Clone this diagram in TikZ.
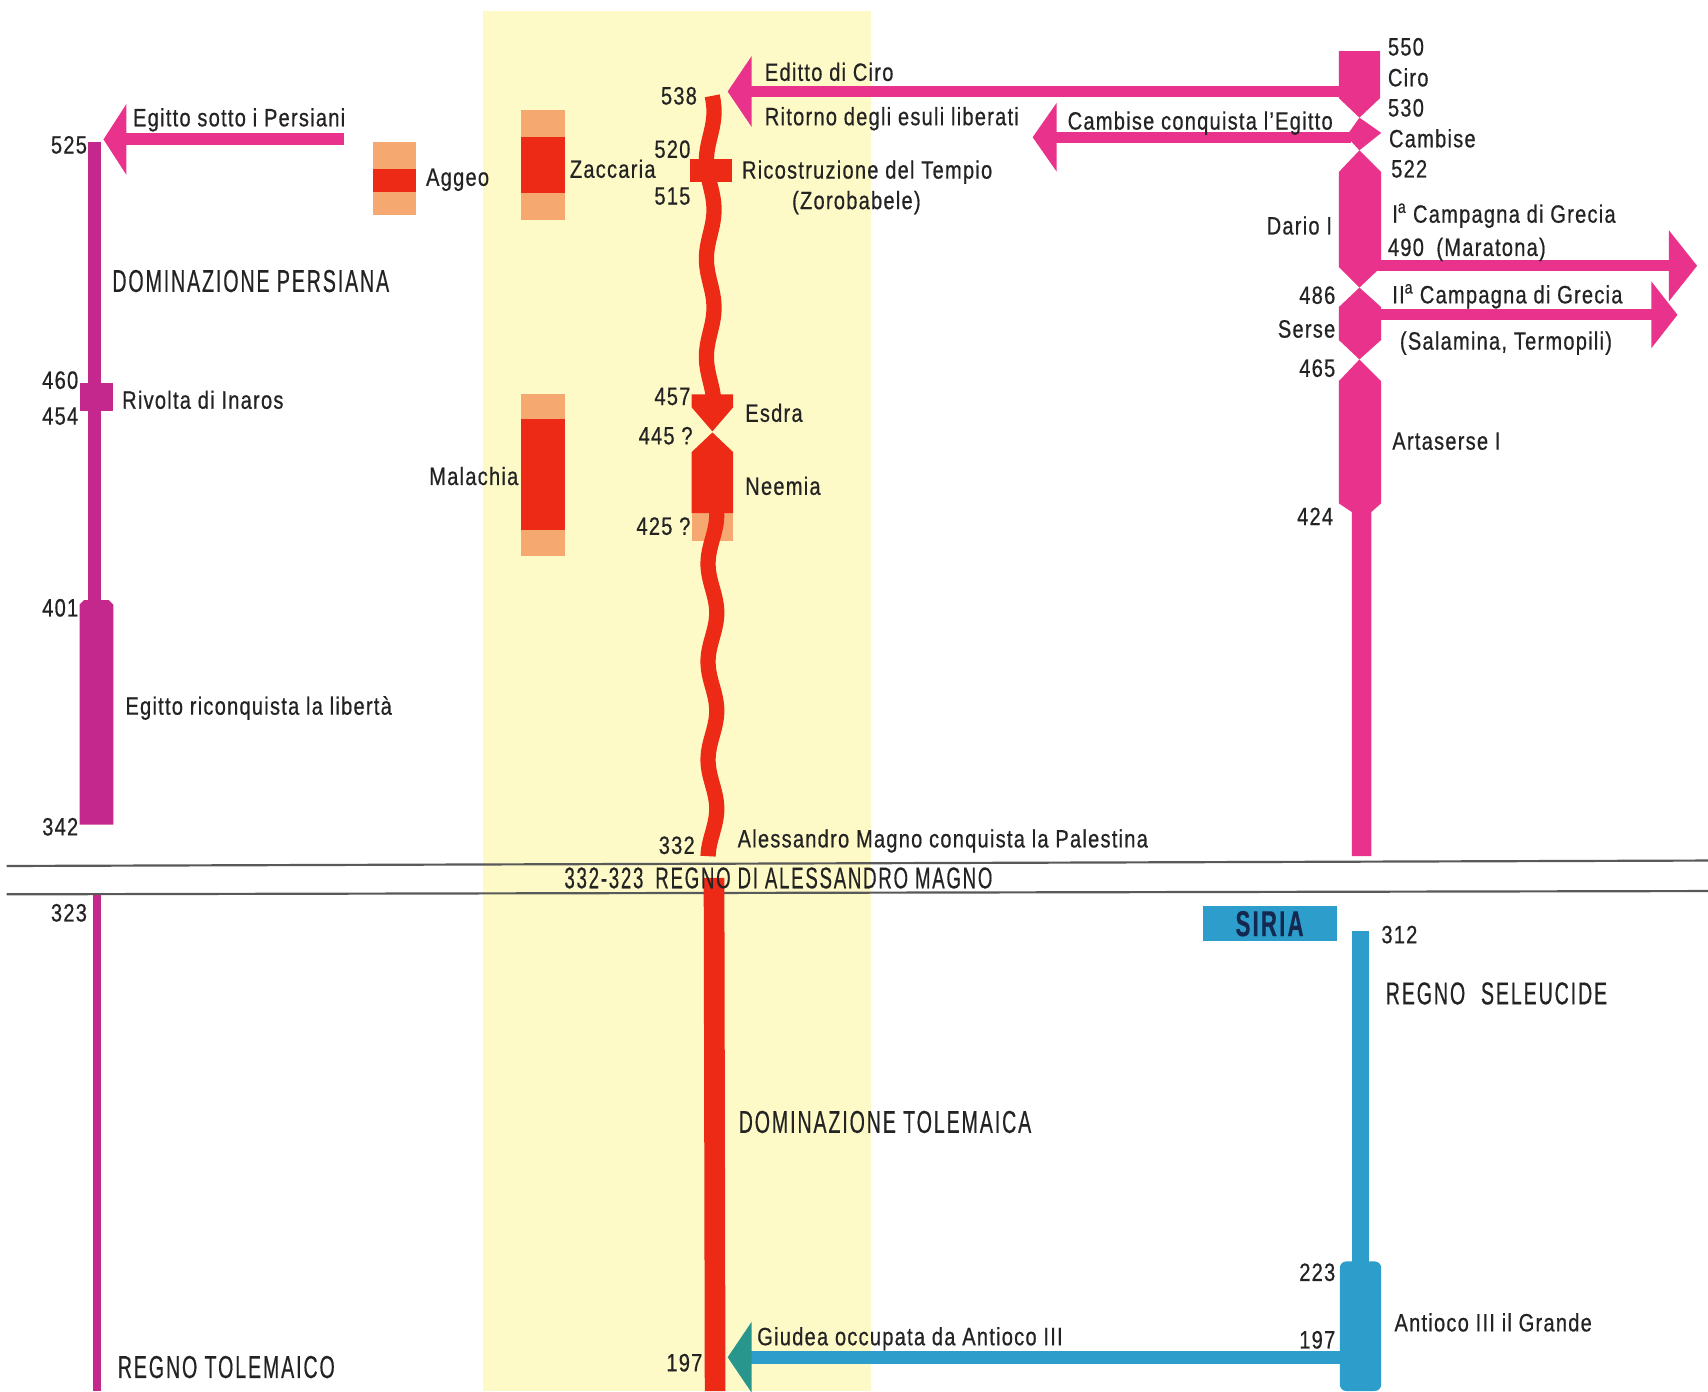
\documentclass[tikz,border=0pt]{standalone}
\usepackage{fontspec}
\setmainfont{Liberation Sans}[FakeStretch=0.8, LetterSpace=5, FakeBold=0.6]
\newfontfamily\capsfont{Liberation Sans}[FakeStretch=0.62, LetterSpace=6, FakeBold=0.4]
\usepackage{tikz}
\usetikzlibrary{arrows.meta, positioning}
\definecolor{persiapink}{RGB}{232, 50, 140}
\definecolor{egyptmag}{RGB}{196, 40, 140}
\definecolor{judared}{RGB}{236, 42, 22}
\definecolor{prophlight}{RGB}{245, 168, 112}
\definecolor{syriablue}{RGB}{45, 158, 204}
\definecolor{giudteal}{RGB}{40, 150, 140}
\definecolor{bandyellow}{RGB}{254, 250, 200}
\definecolor{inkgray}{RGB}{35, 35, 35}
\definecolor{navy}{RGB}{20, 40, 80}

\tikzset{
  lbl/.style={inner sep=0pt, text=inkgray, font=\fontsize{23}{25}\selectfont},
  headline/.style={inner sep=0pt, text=inkgray, font=\capsfont\fontsize{29}{31}\selectfont},
  divider/.style={draw=black!65, line width=2pt},
  wavy/.style={judared, line width=14pt},
}

\begin{document}
\begin{tikzpicture}[x=1pt, y=-1pt]
  \useasboundingbox (0,0) rectangle (1568,1277);
  \fill[white] (0,0) rectangle (1568,1277);

  % yellow band for Judaea
  \fill[bandyellow] (443,10) rectangle (800,1277);

  % dividing lines
  \draw[divider] (6,795) -- (1568,790);
  \draw[divider] (6,821) -- (1568,818);

  % Egypt column
  \fill[egyptmag] (81,130) rectangle (93,553);
  \fill[egyptmag] (73,352) rectangle (104,377);
  \fill[egyptmag] (77,551) -- (100,551) -- (104,555) -- (104,757) -- (73,757) -- (73,555) -- cycle;
  \fill[egyptmag] (85,822) rectangle (93,1277);
  \coordinate (egW) at (316,128);
  \coordinate (egTip) at (95,128);
  \draw[persiapink, line width=11pt, -{Triangle[length=21pt, width=64pt]}] (egW) -- (egTip);

  % prophets
  \fill[prophlight] (342,130) rectangle (382,197);
  \fill[judared] (342,155) rectangle (382,176);
  \fill[prophlight] (478,101) rectangle (519,202);
  \fill[judared] (478,126) rectangle (519,177);
  \fill[prophlight] (478,362) rectangle (519,510);
  \fill[judared] (478,385) rectangle (519,487);

  % Judaea line
  \fill[prophlight] (635,470) rectangle (673,497);
  \draw[wavy] plot[variable=\t, domain=88:365, samples=80, smooth] ({652+3.5*sin(4*\t+40)}, \t);
  \draw[wavy] plot[variable=\t, domain=470:786, samples=90, smooth] ({654+4*sin(4*\t)}, \t);
  \fill[judared] (633,146) rectangle (672,167);
  \fill[judared] (635,362) -- (673,362) -- (673,374) -- (654,396) -- (635,374) -- cycle;
  \fill[judared] (654,397) -- (673,415) -- (673,471) -- (635,471) -- (635,415) -- cycle;
  \fill[judared] (646,806) -- (665,806) -- (666,1277) -- (647,1277) -- cycle;

  % Persia column
  \fill[persiapink] (1229,47) -- (1267,47) -- (1267,90) -- (1248,108) -- (1229,90) -- cycle;
  \fill[persiapink] (1248,108) -- (1268,122) -- (1248,138) -- (1236,125) -- cycle;
  \fill[persiapink] (1248,138) -- (1268,158) -- (1268,245) -- (1248,264) -- (1229,245) -- (1229,158) -- cycle;
  \fill[persiapink] (1248,264) -- (1268,282) -- (1268,312) -- (1248,330) -- (1229,312) -- (1229,282) -- cycle;
  \fill[persiapink] (1248,330) -- (1268,350) -- (1268,462) -- (1259,470) -- (1259,786)
    -- (1241,786) -- (1241,470) -- (1229,462) -- (1229,350) -- cycle;
  \coordinate (ciroW) at (1240,84);
  \coordinate (edTip) at (668,84);
  \coordinate (cambW) at (1240,126);
  \coordinate (cambTip) at (948,126);
  \coordinate (darE) at (1258,244);
  \coordinate (maraTip) at (1558,244);
  \coordinate (serE) at (1258,289);
  \coordinate (salTip) at (1540,289);
  \draw[persiapink, line width=11pt, -{Triangle[length=22pt, width=64pt]}] (ciroW) -- (edTip);
  \draw[persiapink, line width=10pt, -{Triangle[length=22pt, width=62pt]}] (cambW) -- (cambTip);
  \draw[persiapink, line width=10pt, -{Triangle[length=26pt, width=64pt]}] (darE) -- (maraTip);
  \draw[persiapink, line width=10pt, -{Triangle[length=24pt, width=60pt]}] (serE) -- (salTip);

  % Syria column
  \fill[syriablue] (1241,855) rectangle (1257,1165);
  \fill[syriablue, rounded corners=6pt] (1230,1277) -- (1230,1158) -- (1268,1158) -- (1268,1277) -- cycle;
  \node[fill=syriablue, minimum width=123pt, minimum height=32pt, inner sep=0pt,
        text=navy, font=\capsfont\bfseries\fontsize{33}{33}\selectfont] (siria) at (1165.5,848) {SIRIA};
  \coordinate (antW) at (1232,1246);
  \coordinate (giudTip) at (668,1246);
  \draw[syriablue, line width=12pt, -{Triangle[length=22pt, width=64pt, color=giudteal]}] (antW) -- (giudTip);

  % labels, Egypt
  \node[lbl, anchor=east] (n525) at (80,133) {525};
  \node[lbl, anchor=west] (egPers) at (122,110) {Egitto sotto i Persiani};
  \node[headline, anchor=west] (domPers) at (103,258) {DOMINAZIONE PERSIANA};
  \node[lbl, anchor=east] (n460) at (72,349) {460};
  \node[lbl, anchor=east] (n454) at (72,382) {454};
  \node[lbl, anchor=west] (inaros) at (112,367) {Rivolta di Inaros};
  \node[lbl, anchor=east] (n401) at (72,558) {401};
  \node[lbl, anchor=west] (libert) at (115,650) {Egitto riconquista la libertà};
  \node[lbl, anchor=east] (n342) at (72,759) {342};
  \node[lbl, anchor=east] (n323) at (80,838) {323};
  \node[headline, anchor=west] (regTol) at (108,1255) {REGNO TOLEMAICO};

  % labels, prophets
  \node[lbl, anchor=west] (aggeo) at (391,165) {Aggeo};
  \node[lbl, anchor=west] (zacc) at (523,155) {Zaccaria};
  \node[lbl, anchor=east] (malach) at (476,437) {Malachia};

  % labels, Judaea
  \node[lbl, anchor=east] (n538) at (640,88) {538};
  \node[lbl, anchor=east] (n520) at (634,137) {520};
  \node[lbl, anchor=east] (n515) at (634,180) {515};
  \node[lbl, anchor=west] (tempio) at (681,158) {Ricostruzione del Tempio};
  \node[lbl, anchor=west] (zoro) at (727,186) {(Zorobabele)};
  \node[lbl, anchor=east] (n457) at (634,364) {457};
  \node[lbl, anchor=east] (n445) at (636,400) {445 ?};
  \node[lbl, anchor=east] (n425) at (634,483) {425 ?};
  \node[lbl, anchor=west] (esdra) at (684,379) {Esdra};
  \node[lbl, anchor=west] (neemia) at (684,446) {Neemia};
  \node[lbl, anchor=east] (n332) at (638,776) {332};
  \node[lbl, anchor=west] (alessPal) at (677,772) {Alessandro Magno conquista la Palestina};
  \node[headline, anchor=west, font=\capsfont\fontsize{27.5}{29}\selectfont] (regAless) at (518,806) {332-323\, REGNO DI ALESSANDRO MAGNO};
  \node[headline, anchor=west] (domTol) at (678,1030) {DOMINAZIONE TOLEMAICA};
  \node[lbl, anchor=east] (n197a) at (645,1251) {197};
  \node[lbl, anchor=west] (giudea) at (695,1229) {Giudea occupata da Antioco III};

  % labels, Persia
  \node[lbl, anchor=west] (editto) at (702,66) {Editto di Ciro};
  \node[lbl, anchor=west] (ritorno) at (702,109) {Ritorno degli esuli liberati};
  \node[lbl, anchor=west] (cambLbl) at (980,113) {Cambise conquista l'Egitto};
  \node[lbl, anchor=west] (n550) at (1274,43) {550};
  \node[lbl, anchor=west] (ciro) at (1274,71) {Ciro};
  \node[lbl, anchor=west] (n530) at (1274,99) {530};
  \node[lbl, anchor=west] (cambise) at (1275,127) {Cambise};
  \node[lbl, anchor=west] (n522) at (1277,155) {522};
  \node[lbl, anchor=east] (dario) at (1223,207) {Dario I};
  \node[lbl, anchor=west] (camp1) at (1278,198) {I\textsuperscript{a} Campagna di Grecia};
  \node[lbl, anchor=west] (mara) at (1274,229) {490\enspace(Maratona)};
  \node[lbl, anchor=east] (n486) at (1226,271) {486};
  \node[lbl, anchor=east] (serse) at (1226,302) {Serse};
  \node[lbl, anchor=east] (n465) at (1226,338) {465};
  \node[lbl, anchor=west] (camp2) at (1278,272) {II\textsuperscript{a} Campagna di Grecia};
  \node[lbl, anchor=west] (salam) at (1285,315) {(Salamina, Termopili)};
  \node[lbl, anchor=west] (artas) at (1278,405) {Artaserse I};
  \node[lbl, anchor=east] (n424) at (1224,474) {424};

  % labels, Syria
  \node[lbl, anchor=west] (n312) at (1268,858) {312};
  \node[headline, anchor=west] (regSel) at (1272,912) {REGNO\enspace SELEUCIDE};
  \node[lbl, anchor=east] (n223) at (1226,1168) {223};
  \node[lbl, anchor=east] (n197b) at (1226,1230) {197};
  \node[lbl, anchor=west] (antioco) at (1280,1214) {Antioco III il Grande};
\end{tikzpicture}
\end{document}
